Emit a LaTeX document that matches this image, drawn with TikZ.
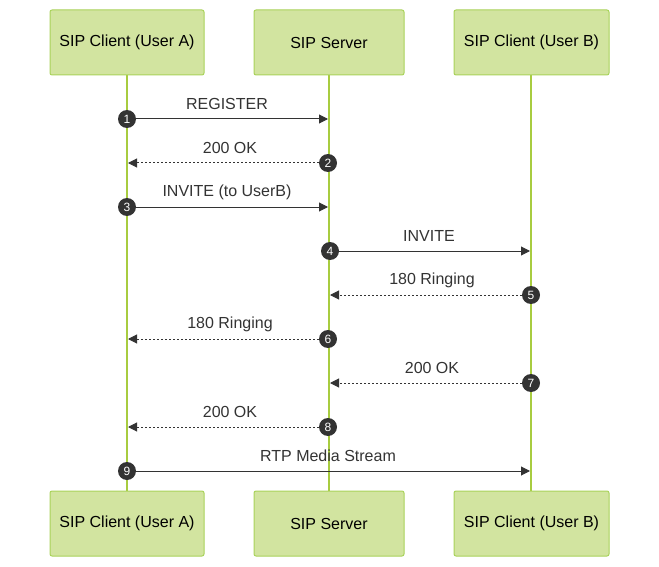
\documentclass[tikz,border=0pt]{standalone}
\usepackage{fontspec}
\setmainfont{Liberation Sans}
\usetikzlibrary{arrows.meta}
\definecolor{boxf}{HTML}{D2E4A0}
\definecolor{boxd}{HTML}{A9D25A}
\definecolor{life}{HTML}{A8CC40}
\definecolor{txt}{HTML}{333333}
\begin{document}
\begin{tikzpicture}[x=1pt,y=-1pt,
  actor/.style={draw=boxd,fill=boxf,line width=1pt,rounded corners=2pt,minimum height=65pt,text=black,font=\fontsize{16}{19}\selectfont,inner sep=0pt},
  lifeline/.style={draw=life,line width=1.5pt},
  msg/.style={draw=txt,line width=1pt,-{Triangle[length=9pt,width=9pt]}},
  rep/.style={msg,dash pattern=on 2pt off 2pt},
  num/.style={circle,fill=txt,text=white,inner sep=0pt,minimum size=18pt,font=\fontsize{12}{13}\selectfont},
  lab/.style={text=txt,font=\fontsize{16}{19}\selectfont,inner sep=0pt}]
\useasboundingbox (0,0) rectangle (659,567);
\coordinate (la1) at (127,75); \coordinate (la2) at (127,491);
\coordinate (ls1) at (329,75); \coordinate (ls2) at (329,491);
\coordinate (lb1) at (531,75); \coordinate (lb2) at (531,491);
\draw[lifeline] (la1) -- (la2);
\draw[lifeline] (ls1) -- (ls2);
\draw[lifeline] (lb1) -- (lb2);
\node[actor,minimum width=154pt] (a1) at (127,42.5) {SIP Client (User A)};
\node[actor,minimum width=150pt] (s1) at (329,42.5) {SIP Server};
\node[actor,minimum width=155pt] (b1) at (531.5,42.5) {SIP Client (User B)};
\node[actor,minimum width=154pt] (a2) at (127,523.5) {SIP Client (User A)};
\node[actor,minimum width=150pt] (s2) at (329,523.5) {SIP Server};
\node[actor,minimum width=155pt] (b2) at (531.5,523.5) {SIP Client (User B)};
\coordinate (tA1) at (328,119); \coordinate (tA2) at (128,163);
\coordinate (tA3) at (328,207); \coordinate (tA4) at (530,251);
\coordinate (tA5) at (330,295); \coordinate (tA6) at (128,339);
\coordinate (tA7) at (330,383); \coordinate (tA8) at (128,427);
\coordinate (tA9) at (530,471);
\node[num] (n1) at (127,119) {1};
\node[num] (n2) at (328,163) {2};
\node[num] (n3) at (127,207) {3};
\node[num] (n4) at (330,251) {4};
\node[num] (n5) at (531,295) {5};
\node[num] (n6) at (328,339) {6};
\node[num] (n7) at (531,383) {7};
\node[num] (n8) at (328,427) {8};
\node[num] (n9) at (127,471) {9};
\draw[msg] (n1) -- (tA1);
\draw[rep] (n2) -- (tA2);
\draw[msg] (n3) -- (tA3);
\draw[msg] (n4) -- (tA4);
\draw[rep] (n5) -- (tA5);
\draw[rep] (n6) -- (tA6);
\draw[rep] (n7) -- (tA7);
\draw[rep] (n8) -- (tA8);
\draw[msg] (n9) -- (tA9);
\node[lab] (l1) at (227,104) {REGISTER};
\node[lab] (l2) at (230,148) {200 OK};
\node[lab] (l3) at (227,192) {INVITE (to UserB)};
\node[lab] (l4) at (429,236) {INVITE};
\node[lab] (l5) at (432,280) {180 Ringing};
\node[lab] (l6) at (230,324) {180 Ringing};
\node[lab] (l7) at (432,368) {200 OK};
\node[lab] (l8) at (230,412) {200 OK};
\node[lab] (l9) at (328,456) {RTP Media Stream};
\end{tikzpicture}
\end{document}
